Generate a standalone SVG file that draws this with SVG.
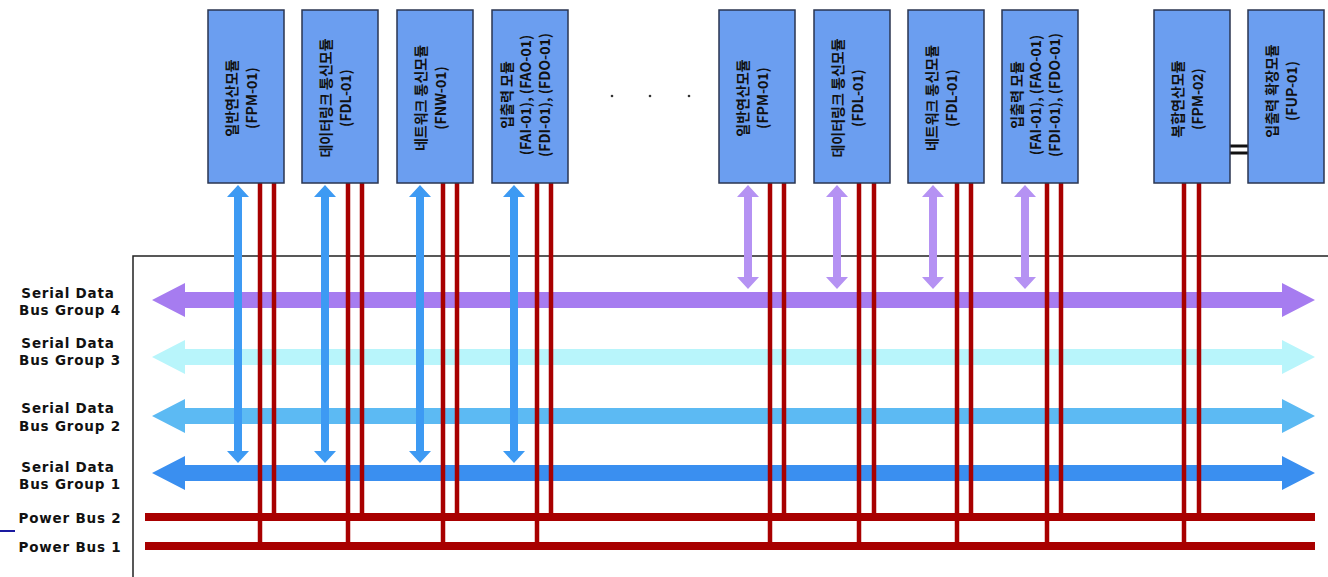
<svg xmlns="http://www.w3.org/2000/svg" width="1328" height="577" viewBox="0 0 1328 577">
<style>
.box{fill:#6b9ef0;stroke:#2a3550;stroke-width:1.5}
.bt{font-family:"Noto Sans CJK KR","DejaVu Sans",sans-serif;font-weight:bold;font-size:14px;fill:#111;text-anchor:middle}
.lb{font-family:"DejaVu Sans","Liberation Sans",sans-serif;font-weight:bold;font-size:13.5px;fill:#111;text-anchor:middle;letter-spacing:0.8px}
.pw{stroke:#a80000;stroke-width:4.5;fill:none}
.pb{stroke:#a80000;stroke-width:8;fill:none}
</style>
<rect width="1328" height="577" fill="#fff"/>
<path d="M133,577 V256 H1328" fill="none" stroke="#222" stroke-width="1.5"/>
<line x1="0" y1="531" x2="15" y2="531" stroke="#1a1aa0" stroke-width="2"/>

<g id="labels">
<text class="lb" x="68" y="298">Serial Data</text><text class="lb" x="70" y="315">Bus Group 4</text>
<text class="lb" x="68" y="348">Serial Data</text><text class="lb" x="70" y="365">Bus Group 3</text>
<text class="lb" x="68" y="413">Serial Data</text><text class="lb" x="70" y="431">Bus Group 2</text>
<text class="lb" x="68" y="472">Serial Data</text><text class="lb" x="70" y="489">Bus Group 1</text>
<text class="lb" x="70" y="523">Power Bus 2</text>
<text class="lb" x="70" y="552">Power Bus 1</text>
</g>

<g id="buses">
<path id="bus4" d="M152,300 L185,283 V292 H1282 V283 L1315,300 L1282,317 V308 H185 V317 Z" fill="#a67cf0"/>
<path id="bus3" d="M152,357 L185,340 V349 H1282 V340 L1315,357 L1282,374 V365 H185 V374 Z" fill="#b8f5fb"/>
<path id="bus2" d="M152,416 L185,399 V408 H1282 V399 L1315,416 L1282,433 V424 H185 V433 Z" fill="#5cbaf3"/>
<path id="bus1" d="M152,473 L185,456 V465 H1282 V456 L1315,473 L1282,490 V481 H185 V490 Z" fill="#3a8ff0"/>
<line id="pbus2" class="pb" x1="145" y1="517" x2="1315" y2="517"/>
<line id="pbus1" class="pb" x1="145" y1="546" x2="1315" y2="546"/>
</g>

<g id="connectors">
<g fill="#3d9af3">
<path d="M238,185 l11,12 h-7 v254 h7 l-11,12 l-11,-12 h7 v-254 h-7 z"/>
<path d="M325,185 l11,12 h-7 v254 h7 l-11,12 l-11,-12 h7 v-254 h-7 z"/>
<path d="M420,185 l11,12 h-7 v254 h7 l-11,12 l-11,-12 h7 v-254 h-7 z"/>
<path d="M514,185 l11,12 h-7 v254 h7 l-11,12 l-11,-12 h7 v-254 h-7 z"/>
</g>
<g fill="#b592f3">
<path d="M748,185 l11,12 h-7 v80 h7 l-11,12 l-11,-12 h7 v-80 h-7 z"/>
<path d="M837,185 l11,12 h-7 v80 h7 l-11,12 l-11,-12 h7 v-80 h-7 z"/>
<path d="M933,185 l11,12 h-7 v80 h7 l-11,12 l-11,-12 h7 v-80 h-7 z"/>
<path d="M1025,185 l11,12 h-7 v80 h7 l-11,12 l-11,-12 h7 v-80 h-7 z"/>
</g>
<g class="pw">
<line x1="260" y1="183" x2="260" y2="548"/><line x1="274" y1="183" x2="274" y2="519"/>
<line x1="348" y1="183" x2="348" y2="548"/><line x1="362" y1="183" x2="362" y2="519"/>
<line x1="443" y1="183" x2="443" y2="548"/><line x1="457" y1="183" x2="457" y2="519"/>
<line x1="537" y1="183" x2="537" y2="548"/><line x1="551" y1="183" x2="551" y2="519"/>
<line x1="770" y1="183" x2="770" y2="548"/><line x1="784" y1="183" x2="784" y2="519"/>
<line x1="859" y1="183" x2="859" y2="548"/><line x1="874" y1="183" x2="874" y2="519"/>
<line x1="957" y1="183" x2="957" y2="548"/><line x1="971" y1="183" x2="971" y2="519"/>
<line x1="1047" y1="183" x2="1047" y2="548"/><line x1="1061" y1="183" x2="1061" y2="519"/>
<line x1="1184" y1="183" x2="1184" y2="548"/><line x1="1199" y1="183" x2="1199" y2="519"/>
</g>
<g stroke="#111" stroke-width="3">
<line x1="1230" y1="146" x2="1248" y2="146"/><line x1="1230" y1="153" x2="1248" y2="153"/>
</g>
</g>

<g fill="#333">
<circle cx="612" cy="96" r="1.3"/><circle cx="650" cy="96" r="1.3"/><circle cx="689" cy="96" r="1.3"/>
</g>

<g id="n1"><rect class="box" x="208" y="10" width="76" height="173"/>
<text class="bt" transform="translate(237,98) rotate(-90)"><tspan x="0" y="0">일반연산모듈</tspan><tspan x="0" y="20">(FPM-01)</tspan></text></g>
<g id="n2"><rect class="box" x="302" y="10" width="76" height="173"/>
<text class="bt" transform="translate(331,98) rotate(-90)"><tspan x="0" y="0">데이터링크 통신모듈</tspan><tspan x="0" y="20">(FDL-01)</tspan></text></g>
<g id="n3"><rect class="box" x="397" y="10" width="76" height="173"/>
<text class="bt" transform="translate(426,98) rotate(-90)"><tspan x="0" y="0">네트워크 통신모듈</tspan><tspan x="0" y="20">(FNW-01)</tspan></text></g>
<g id="n4"><rect class="box" x="492" y="10" width="76" height="173"/>
<text class="bt" transform="translate(512,95) rotate(-90)"><tspan x="0" y="0">입출력 모듈</tspan><tspan x="0" y="19">(FAI-01), (FAO-01)</tspan><tspan x="0" y="38">(FDI-01), (FDO-01)</tspan></text></g>
<g id="n5"><rect class="box" x="719" y="10" width="76" height="173"/>
<text class="bt" transform="translate(748,98) rotate(-90)"><tspan x="0" y="0">일반연산모듈</tspan><tspan x="0" y="20">(FPM-01)</tspan></text></g>
<g id="n6"><rect class="box" x="814" y="10" width="76" height="173"/>
<text class="bt" transform="translate(843,98) rotate(-90)"><tspan x="0" y="0">데이터링크 통신모듈</tspan><tspan x="0" y="20">(FDL-01)</tspan></text></g>
<g id="n7"><rect class="box" x="908" y="10" width="76" height="173"/>
<text class="bt" transform="translate(937,98) rotate(-90)"><tspan x="0" y="0">네트워크 통신모듈</tspan><tspan x="0" y="20">(FDL-01)</tspan></text></g>
<g id="n8"><rect class="box" x="1002" y="10" width="76" height="173"/>
<text class="bt" transform="translate(1022,95) rotate(-90)"><tspan x="0" y="0">입출력 모듈</tspan><tspan x="0" y="19">(FAI-01), (FAO-01)</tspan><tspan x="0" y="38">(FDI-01), (FDO-01)</tspan></text></g>
<g id="n9"><rect class="box" x="1154" y="10" width="76" height="173"/>
<text class="bt" transform="translate(1183,99) rotate(-90)"><tspan x="0" y="0">복합연산모듈</tspan><tspan x="0" y="20">(FPM-02)</tspan></text></g>
<g id="n10"><rect class="box" x="1248" y="10" width="76" height="173"/>
<text class="bt" transform="translate(1277,91) rotate(-90)"><tspan x="0" y="0">입출력 확장모듈</tspan><tspan x="0" y="20">(FUP-01)</tspan></text></g>
</svg>
